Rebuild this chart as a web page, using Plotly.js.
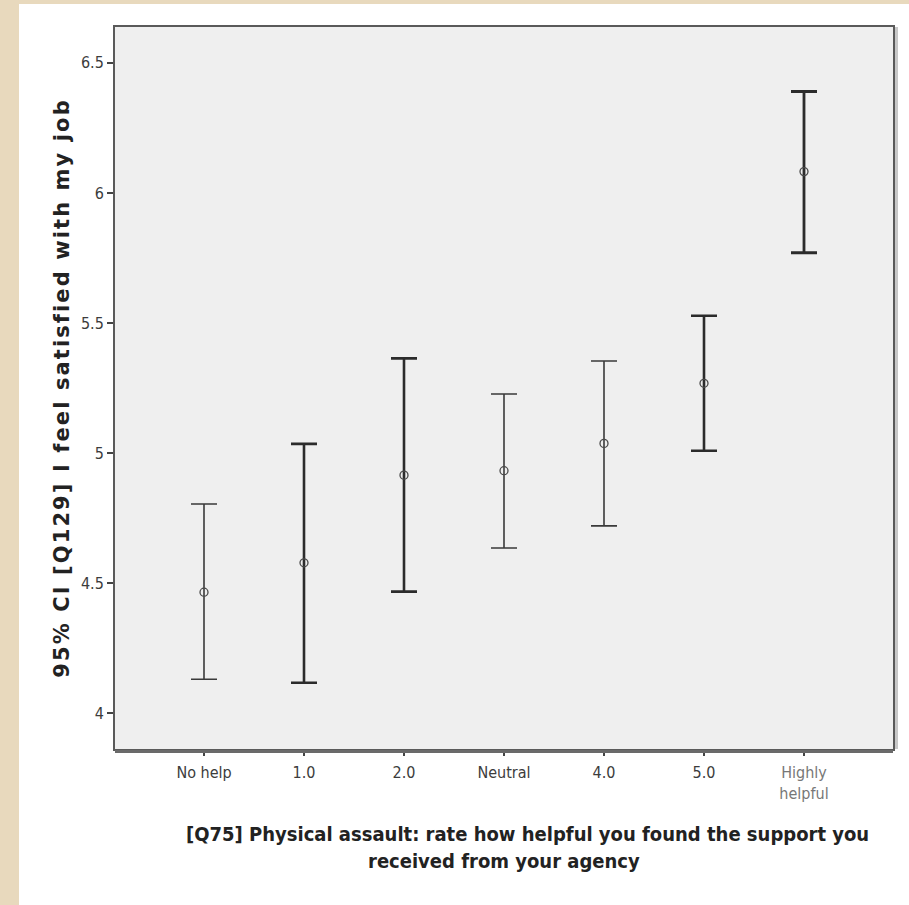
<!DOCTYPE html>
<html>
<head>
<meta charset="utf-8">
<script src="https://cdn.plot.ly/plotly-3.0.1.min.js"></script>
<style>
  html, body { margin: 0; padding: 0; background: #e8d9bd; width: 909px; height: 905px; overflow: hidden; }
  #chart { position: absolute; left: 19px; top: 4px; width: 890px; height: 901px; }
  #chart .ytitle { letter-spacing: 2.1px; }
</style>
</head>
<body>
<div id="chart"></div>
<script>
// Data
const categories = ["No help", "1.0", "2.0", "Neutral", "4.0", "5.0", "Highly helpful"];
const tickLabels = ["No help", "1.0", "2.0", "Neutral", "4.0", "5.0", "<span style=\"color:#777\">Highly<br>helpful</span>"];
const means = [4.465, 4.578, 4.915, 4.932, 5.037, 5.268, 6.082];
const lowerCI = [4.130, 4.117, 4.467, 4.635, 4.720, 5.009, 5.770];
const upperCI = [4.804, 5.035, 5.364, 5.227, 5.354, 5.528, 6.390];
const yTickVals = [4, 4.5, 5, 5.5, 6, 6.5];
const yTickText = ["4", "4.5", "5", "5.5", "6", "6.5"];
const xTitleLines = ["[Q75] Physical assault: rate how helpful you found the support you", "received from your agency"];
const yTitle = "95% CI [Q129] I feel satisfied with my job";

// per-bar stroke weight (visual style only)
const barWeight = [1.6, 2.6, 2.6, 1.6, 1.6, 2.6, 2.8];

const traces = categories.map((c, i) => ({
  type: "scatter",
  mode: "markers",
  x: [c],
  y: [means[i]],
  marker: { symbol: "circle-open", size: 8, color: "#4a4a4a", line: { width: 1.3, color: "#4a4a4a" } },
  error_y: {
    type: "data",
    symmetric: false,
    array: [upperCI[i] - means[i]],
    arrayminus: [means[i] - lowerCI[i]],
    color: barWeight[i] > 2 ? "#2b2b2b" : "#3a3a3a",
    thickness: barWeight[i],
    width: 13
  },
  showlegend: false,
  hoverinfo: "y"
}));

const condensed = "DejaVu Sans Condensed, Liberation Sans Narrow, Arial Narrow, sans-serif";
const tickFont = { family: condensed, size: 16, color: "#3c3c3c" };
const xTitleFont = { family: condensed, size: 20, color: "#222", weight: "bold" };

const layout = {
  width: 890,
  height: 901,
  margin: { l: 96, r: 16, t: 23, b: 156 },
  paper_bgcolor: "#ffffff",
  plot_bgcolor: "#efefef",
  showlegend: false,
  xaxis: {
    type: "category",
    categoryorder: "array",
    categoryarray: categories,
    tickvals: categories,
    ticktext: tickLabels,
    range: [-0.89, 6.89],
    showgrid: false,
    zeroline: false,
    showline: true,
    mirror: true,
    linecolor: "#5a5a5a",
    linewidth: 2,
    ticks: "outside",
    ticklen: 5,
    tickwidth: 1.5,
    tickcolor: "#444",
    ticklabelstandoff: 3,
    tickfont: tickFont
  },
  yaxis: {
    range: [3.862, 6.638],
    tickvals: yTickVals,
    ticktext: yTickText,
    showgrid: false,
    zeroline: false,
    showline: true,
    mirror: true,
    linecolor: "#5a5a5a",
    linewidth: 2,
    ticks: "outside",
    ticklen: 6,
    tickwidth: 1.5,
    tickcolor: "#444",
    tickfont: tickFont,
    title: {
      text: yTitle,
      font: { family: "DejaVu Sans, Verdana, sans-serif", size: 21, color: "#222", weight: "bold" },
      standoff: 6
    }
  },
  shapes: [
    { type: "rect", xref: "paper", yref: "paper", xsizemode: "pixel", xanchor: 1, x0: 1, x1: 5, y0: 0, y1: 1,
      fillcolor: "#c8c8c8", line: { width: 0 }, layer: "below" },
    { type: "rect", xref: "paper", yref: "paper", ysizemode: "pixel", yanchor: 0, y0: -1, y1: -4, x0: 0, x1: 1,
      fillcolor: "#6a6a6a", line: { width: 0 } }
  ],
  annotations: [
    {
      xref: "paper", yref: "paper",
      x: 0.5296, y: -0.1177,
      xanchor: "center", yanchor: "middle",
      showarrow: false,
      text: xTitleLines[0],
      font: xTitleFont
    },
    {
      xref: "paper", yref: "paper",
      x: 0.5, y: -0.1551,
      xanchor: "center", yanchor: "middle",
      showarrow: false,
      text: xTitleLines[1],
      font: xTitleFont
    }
  ]
};

Plotly.newPlot("chart", traces, layout, { displayModeBar: false, staticPlot: true });
</script>
</body>
</html>
